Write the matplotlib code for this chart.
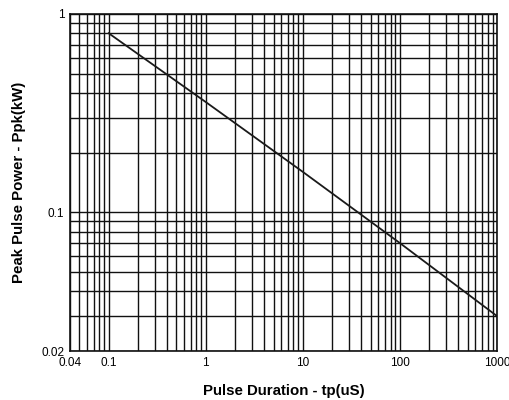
import matplotlib.pyplot as plt
from matplotlib.ticker import FixedLocator, LogLocator, NullFormatter

# pulse duration (us) vs peak pulse power (kW)
tp_us = [0.1, 1, 10, 100, 1000]
ppk_kw = [0.8, 0.36, 0.16, 0.07, 0.03]

x_ticks = [0.04, 0.1, 1, 10, 100, 1000]
x_tick_labels = ["0.04", "0.1", "1", "10", "100", "1000"]
y_ticks = [0.02, 0.1, 1]
y_tick_labels = ["0.02", "0.1", "1"]

plt.rcParams['font.family'] = ['Liberation Sans', 'DejaVu Sans']

fig = plt.figure(figsize=(5.1, 4.0), dpi=100)
ax = fig.add_axes([70 / 510, 1 - 351 / 400, 427 / 510, 337 / 400])

ax.set_xscale('log')
ax.set_yscale('log')
ax.set_xlim(0.04, 1000)
ax.set_ylim(0.02, 1)

ax.plot(tp_us, ppk_kw, color='#1a1a1a', lw=1.3)

ax.xaxis.set_major_locator(FixedLocator(x_ticks))
ax.set_xticklabels(x_tick_labels)
ax.yaxis.set_major_locator(FixedLocator(y_ticks))
ax.set_yticklabels(y_tick_labels)
ax.xaxis.set_minor_locator(LogLocator(base=10, subs=range(2, 10), numticks=20))
ax.yaxis.set_minor_locator(LogLocator(base=10, subs=range(2, 10), numticks=20))
ax.xaxis.set_minor_formatter(NullFormatter())
ax.yaxis.set_minor_formatter(NullFormatter())

ax.grid(True, which='both', color='#111111', lw=1.0)
ax.tick_params(which='both', length=0, labelsize=8.5, pad=4)
for s in ax.spines.values():
    s.set_color('#111111')
    s.set_linewidth(1.2)

ax.set_xlabel('Pulse Duration - tp(uS)', fontsize=10.8, fontweight='bold', labelpad=11)
ax.set_ylabel('Peak Pulse Power - Ppk(kW)', fontsize=10.8, fontweight='bold', labelpad=11)

fig.savefig('out.png', dpi=100)
